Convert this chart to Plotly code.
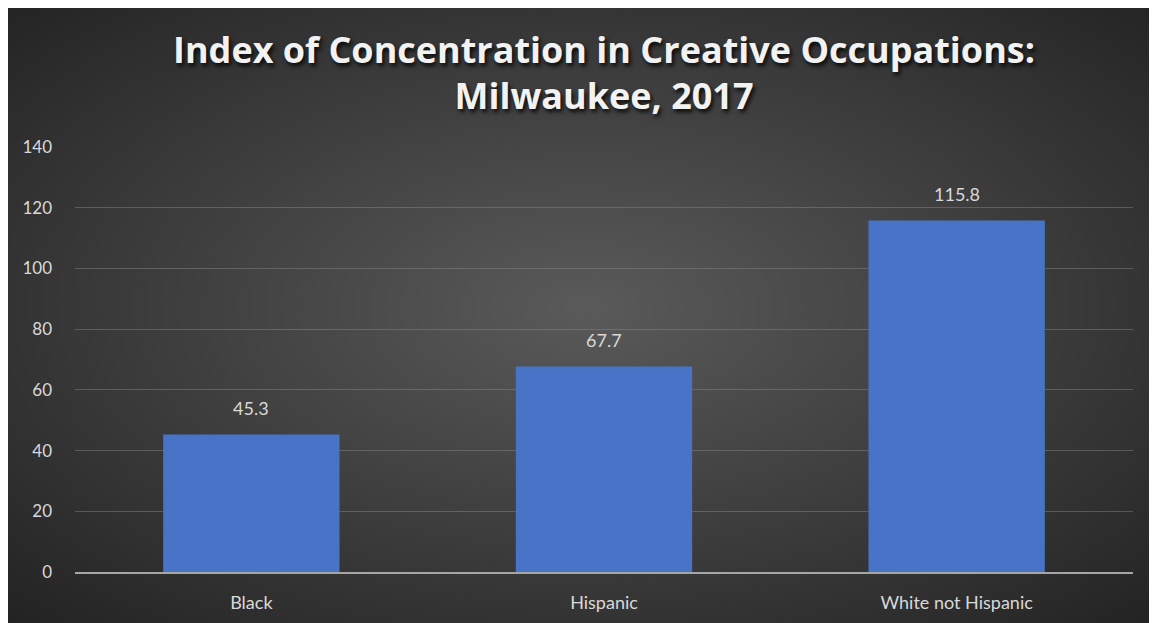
import plotly.graph_objects as go

categories = ["Black", "Hispanic", "White not Hispanic"]
values = [45.3, 67.7, 115.8]
y_ticks = [0, 20, 40, 60, 80, 100, 120, 140]

W, H = 1157, 623
L, R, T, B = 67, 32, 139, 59
pw, ph = W - L - R, H - T - B

bg_svg = (
    "data:image/svg+xml;utf8,"
    "<svg xmlns='http://www.w3.org/2000/svg' width='1157' height='623' preserveAspectRatio='none'>"
    "<defs><radialGradient id='g' cx='50%' cy='48%' r='72%'>"
    "<stop offset='0%' stop-color='%235a5a5a'/>"
    "<stop offset='100%' stop-color='%23222222'/>"
    "</radialGradient></defs>"
    "<rect width='1157' height='623' fill='url(%23g)'/></svg>"
)

fig = go.Figure()
fig.add_trace(go.Bar(
    x=categories, y=values,
    marker=dict(color="#4774C7", line=dict(width=0)),
    hoverinfo="skip",
))

for c, v in zip(categories, values):
    fig.add_annotation(x=c, y=v, text=f"{v}", showarrow=False, yanchor="bottom",
                       yshift=13, font=dict(family="Lato, sans-serif", size=18, color="#d9d9d9"))

fig.update_layout(
    width=W, height=H,
    margin=dict(l=L, r=R, t=T, b=B, pad=0),
    paper_bgcolor="#2b2b2b",
    plot_bgcolor="rgba(0,0,0,0)",
    bargap=0.5,
    showlegend=False,
    title=dict(
        text="Index of Concentration in Creative Occupations:<br>Milwaukee, 2017",
        x=0.5, xref="paper", xanchor="center",
        yref="container", y=1 - 54.5 / H, yanchor="middle",
        font=dict(family="Open Sans, sans-serif", size=36, color="#f2f2f2",
                  weight="bold", shadow="2px 3px 4px rgba(0,0,0,0.85)"),
    ),
    images=[dict(
        source=bg_svg, xref="paper", yref="paper",
        x=-L / pw, y=(H - B) / ph,
        sizex=W / pw, sizey=H / ph,
        xanchor="left", yanchor="top", sizing="stretch", layer="below",
    )],
    xaxis=dict(
        showgrid=False, zeroline=False, showline=True,
        linecolor="#a6a6a6", linewidth=1.5,
        tickfont=dict(family="Lato, sans-serif", size=18, color="#d9d9d9"),
        ticks="", ticklabelstandoff=14,
    ),
    yaxis=dict(
        range=[0, 140], tickvals=y_ticks,
        showgrid=True, gridcolor="rgba(140,140,140,0.45)", gridwidth=1,
        zeroline=False, showline=False,
        tickfont=dict(family="Lato, sans-serif", size=17, color="#d9d9d9"),
        ticks="", ticklabelstandoff=22,
    ),
)

fig.write_html("out.html", post_script="document.body.style.overflow='hidden';")
